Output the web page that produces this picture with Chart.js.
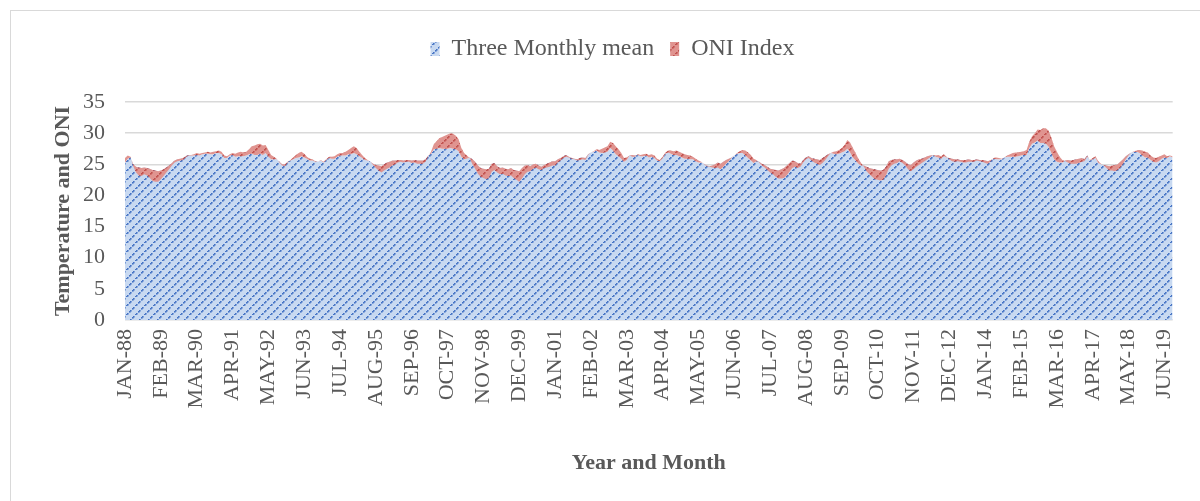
<!DOCTYPE html>
<html>
<head>
<meta charset="utf-8">
<script src="https://cdn.jsdelivr.net/npm/chart.js@4.4.1/dist/chart.umd.min.js"></script>
<style>
  html, body { margin: 0; padding: 0; background: #fff; overflow: hidden; }
  #frame { position: absolute; left: 10px; top: 10px; width: 1200px; height: 500px; border: 1px solid #d9d9d9; }
  #wrap { position: absolute; left: 0; top: 0; width: 1200px; height: 501px; }
</style>
</head>
<body>
<div id="frame"></div>
<div id="wrap"><canvas id="chart" width="1200" height="501"></canvas></div>
<script>
// monthly values, JAN-88 .. SEP-19 (one row per year)
const threeMonthlyMean = [
  25.3, 25.9, 26.1, 25.0, 24.6, 24.5, 24.4, 24.5, 24.4, 24.3, 24.1, 24.0,
  23.9, 24.0, 24.2, 24.5, 24.8, 25.2, 25.6, 25.8, 25.9, 26.0, 26.3, 26.5,
  26.4, 26.4, 26.5, 26.4, 26.6, 26.7, 26.7, 26.6, 26.6, 26.8, 26.8, 26.6,
  26.0, 26.0, 26.4, 26.5, 26.2, 26.3, 26.3, 26.3, 26.4, 26.6, 26.7, 26.5,
  26.5, 26.7, 26.5, 26.8, 26.2, 25.8, 25.8, 25.8, 25.4, 25.0, 25.0, 25.4,
  25.6, 25.8, 26.0, 26.1, 26.3, 26.1, 25.9, 25.6, 25.6, 25.4, 25.4, 25.6,
  25.3, 25.7, 26.0, 25.9, 25.9, 26.2, 26.4, 26.4, 26.4, 26.6, 26.6, 26.8,
  26.6, 26.3, 26.0, 25.7, 25.6, 25.4, 25.1, 24.9, 24.8, 24.7, 25.0, 25.3,
  25.4, 25.6, 25.6, 25.7, 25.7, 25.6, 25.7, 25.7, 25.6, 25.7, 25.6, 25.6,
  25.6, 25.8, 26.4, 26.7, 27.4, 27.5, 27.6, 27.5, 27.5, 27.5, 27.6, 27.5,
  27.4, 27.1, 26.2, 25.8, 25.9, 26.1, 25.8, 25.4, 24.8, 24.4, 24.3, 24.2,
  24.3, 25.1, 25.2, 24.7, 24.4, 24.5, 24.3, 24.2, 24.4, 24.1, 24.0, 23.9,
  24.4, 24.8, 24.9, 24.7, 25.0, 25.1, 24.8, 24.6, 24.9, 25.1, 25.3, 25.5,
  25.5, 25.8, 26.0, 26.3, 26.5, 26.2, 26.0, 25.9, 25.8, 26.0, 26.1, 26.0,
  26.6, 26.9, 27.0, 27.2, 26.9, 26.8, 26.9, 27.0, 27.6, 27.2, 26.6, 26.3,
  25.9, 25.4, 25.7, 26.4, 26.5, 26.4, 26.5, 26.3, 26.3, 26.4, 26.1, 26.2,
  26.0, 25.6, 25.5, 26.0, 26.7, 26.9, 26.7, 26.5, 26.5, 26.3, 26.1, 25.9,
  25.9, 25.8, 25.8, 25.5, 25.3, 25.3, 25.1, 24.8, 24.7, 24.8, 25.0, 25.3,
  25.1, 25.4, 25.7, 25.9, 26.1, 26.4, 26.7, 26.8, 26.8, 26.4, 26.0, 25.6,
  25.2, 25.5, 25.4, 25.1, 24.9, 24.6, 24.3, 24.2, 24.1, 24.0, 24.2, 24.4,
  24.8, 25.2, 25.6, 25.5, 25.2, 25.1, 25.7, 26.1, 26.3, 26.0, 25.9, 25.8,
  25.7, 26.0, 26.3, 26.6, 26.8, 26.7, 26.6, 26.7, 26.9, 27.1, 27.5, 26.9,
  26.1, 25.6, 25.1, 24.8, 24.8, 24.6, 24.4, 24.3, 24.2, 24.1, 24.0, 24.1,
  24.6, 25.5, 25.7, 25.8, 25.8, 25.9, 25.7, 25.4, 25.0, 24.9, 25.3, 25.6,
  25.8, 25.9, 26.1, 26.3, 26.4, 26.5, 26.2, 26.1, 25.9, 26.3, 26.1, 26.0,
  25.9, 25.8, 25.8, 25.7, 25.7, 25.7, 25.8, 25.7, 25.7, 25.8, 25.7, 25.7,
  25.6, 25.5, 25.7, 25.9, 25.8, 25.8, 25.8, 26.1, 26.2, 26.2, 26.2, 26.2,
  26.3, 26.4, 26.5, 26.5, 27.6, 28.3, 28.5, 28.8, 28.4, 28.4, 28.3, 27.8,
  26.8, 25.8, 25.4, 25.3, 25.3, 25.6, 25.7, 25.6, 25.7, 25.8, 25.9, 26.0,
  25.8, 26.4, 25.6, 25.8, 26.0, 25.2, 25.0, 24.9, 24.8, 24.7, 24.8, 24.9,
  25.0, 25.4, 25.8, 26.3, 26.6, 26.9, 27.0, 27.0, 26.8, 26.4, 26.1, 26.1,
  25.7, 25.4, 25.3, 25.5, 25.9, 26.1, 26.0, 26.3, 26.1
];

const oniIndex = [
  0.7, 0.5, 0.1, -0.3, -0.9, -1.3, -1.3, -1.1, -1.2, -1.5, -1.8, -1.8,
  -1.7, -1.4, -1.1, -0.8, -0.6, -0.4, -0.3, -0.3, -0.3, -0.3, -0.2, -0.1,
  0.1, 0.2, 0.3, 0.3, 0.2, 0.2, 0.3, 0.3, 0.4, 0.3, 0.4, 0.4,
  0.4, 0.3, 0.2, 0.3, 0.5, 0.6, 0.7, 0.6, 0.6, 0.8, 1.2, 1.5,
  1.7, 1.6, 1.5, 1.3, 1.1, 0.7, 0.4, 0.1, -0.1, -0.2, -0.3, -0.1,
  0.1, 0.3, 0.5, 0.7, 0.7, 0.6, 0.3, 0.3, 0.2, 0.1, 0.0, 0.1,
  0.1, 0.1, 0.2, 0.3, 0.4, 0.4, 0.4, 0.4, 0.6, 0.7, 1.0, 1.1,
  1.0, 0.7, 0.5, 0.3, 0.1, 0.0, -0.2, -0.5, -0.8, -1.0, -1.0, -1.0,
  -0.9, -0.8, -0.6, -0.4, -0.3, -0.3, -0.3, -0.3, -0.4, -0.4, -0.5, -0.5,
  -0.5, -0.4, -0.1, 0.3, 0.8, 1.2, 1.6, 1.9, 2.1, 2.3, 2.4, 2.4,
  2.2, 1.9, 1.4, 1.0, 0.5, -0.1, -0.8, -1.1, -1.3, -1.4, -1.5, -1.6,
  -1.5, -1.3, -1.1, -1.0, -1.0, -1.0, -1.1, -1.1, -1.2, -1.3, -1.5, -1.7,
  -1.7, -1.4, -1.1, -0.8, -0.7, -0.6, -0.6, -0.5, -0.5, -0.6, -0.7, -0.7,
  -0.7, -0.5, -0.4, -0.3, -0.3, -0.1, -0.1, -0.1, -0.2, -0.3, -0.3, -0.3,
  -0.1, 0.0, 0.1, 0.2, 0.4, 0.7, 0.8, 0.9, 1.0, 1.2, 1.3, 1.1,
  0.9, 0.6, 0.4, 0.0, -0.3, -0.2, 0.1, 0.2, 0.3, 0.3, 0.4, 0.4,
  0.4, 0.3, 0.2, 0.2, 0.2, 0.3, 0.5, 0.6, 0.7, 0.7, 0.7, 0.7,
  0.6, 0.6, 0.4, 0.4, 0.3, 0.1, -0.1, -0.1, -0.1, -0.3, -0.6, -0.8,
  -0.9, -0.8, -0.6, -0.4, -0.1, 0.0, 0.1, 0.3, 0.5, 0.8, 0.9, 0.9,
  0.7, 0.2, -0.1, -0.3, -0.4, -0.5, -0.6, -0.8, -1.1, -1.3, -1.5, -1.6,
  -1.6, -1.4, -1.2, -0.9, -0.8, -0.5, -0.4, -0.3, -0.3, -0.4, -0.6, -0.7,
  -0.8, -0.8, -0.6, -0.3, 0.0, 0.3, 0.5, 0.6, 0.7, 1.0, 1.4, 1.6,
  1.5, 1.2, 0.8, 0.4, -0.2, -0.7, -1.0, -1.3, -1.6, -1.6, -1.6, -1.6,
  -1.4, -1.2, -0.9, -0.7, -0.6, -0.4, -0.5, -0.6, -0.8, -1.0, -1.1, -1.0,
  -0.9, -0.7, -0.6, -0.5, -0.3, 0.0, 0.2, 0.4, 0.4, 0.3, 0.1, -0.2,
  -0.4, -0.4, -0.3, -0.3, -0.4, -0.4, -0.4, -0.3, -0.3, -0.2, -0.2, -0.3,
  -0.4, -0.4, -0.2, 0.1, 0.3, 0.2, 0.1, 0.0, 0.2, 0.4, 0.6, 0.7,
  0.6, 0.6, 0.6, 0.8, 1.0, 1.2, 1.5, 1.8, 2.1, 2.4, 2.5, 2.6,
  2.5, 2.1, 1.6, 0.9, 0.4, -0.1, -0.4, -0.5, -0.6, -0.7, -0.7, -0.6,
  -0.3, -0.2, 0.1, 0.2, 0.3, 0.3, 0.1, -0.1, -0.4, -0.7, -0.8, -1.0,
  -0.9, -0.9, -0.7, -0.5, -0.2, 0.0, 0.1, 0.2, 0.5, 0.8, 0.9, 0.8,
  0.7, 0.7, 0.7, 0.7, 0.5, 0.5, 0.3, 0.1, 0.2
];

const monthNames = ['JAN', 'FEB', 'MAR', 'APR', 'MAY', 'JUN', 'JUL', 'AUG', 'SEP', 'OCT', 'NOV', 'DEC'];
const firstYear = 1988;
const labelEvery = 13;
const yTicks = [0, 5, 10, 15, 20, 25, 30, 35];

const labels = threeMonthlyMean.map((v, i) =>
  monthNames[i % 12] + '-' + String((firstYear + Math.floor(i / 12)) % 100).padStart(2, '0'));

// ONI is stacked on top of the mean (Excel stacked area style)
const stackedTop = threeMonthlyMean.map((v, i) => +(v + oniIndex[i]).toFixed(2));

function hatch(bg, fg) {
  const n = 9;
  const c = document.createElement('canvas');
  c.width = n; c.height = n;
  const g = c.getContext('2d');
  g.fillStyle = bg;
  g.fillRect(0, 0, n, n);
  g.fillStyle = fg;
  for (let k = 0; k < n; k++) {
    if (k % 3 !== 2) g.fillRect(k, n - 1 - k, 1.6, 1.6);
  }
  return g.createPattern(c, 'repeat');
}

const blueFill = hatch('#c8d9f1', '#4472c4');
const redFill = hatch('#e09490', '#c0504d');

const textColor = '#595959';
const serif = "'Liberation Serif', 'DejaVu Serif', serif";

const legendSpace = {
  id: 'legendSpace',
  beforeInit(chart) {
    const fit = chart.legend.fit;
    chart.legend.fit = function () {
      fit.call(this);
      this.height = 81;
    };
  }
};

const ctx = document.getElementById('chart').getContext('2d');
new Chart(ctx, {
  type: 'line',
  data: {
    labels: labels,
    datasets: [{
      label: 'Three Monthly mean',
      data: threeMonthlyMean,
      backgroundColor: blueFill,
      borderColor: 'rgba(0,0,0,0)',
      borderWidth: 0,
      pointRadius: 0,
      fill: 'origin',
      order: 1
    }, {
      label: 'ONI Index',
      data: stackedTop,
      backgroundColor: redFill,
      borderColor: 'rgba(0,0,0,0)',
      borderWidth: 0,
      pointRadius: 0,
      fill: '-1',
      order: 0
    }]
  },
  options: {
    responsive: false,
    animation: false,
    layout: { padding: { left: 50, top: 21, right: 25, bottom: 20 } },
    plugins: {
      tooltip: { enabled: false },
      legend: {
        position: 'top',
        labels: {
          boxWidth: 9,
          boxHeight: 14,
          padding: 16,
          color: textColor,
          font: { family: serif, size: 24 },
          sort: (a, b) => a.datasetIndex - b.datasetIndex
        }
      }
    },
    scales: {
      x: {
        grid: { display: false, drawTicks: false },
        border: { display: false },
        ticks: {
          autoSkip: false,
          minRotation: 90,
          maxRotation: 90,
          padding: 9,
          color: textColor,
          font: { family: serif, size: 22 },
          callback: function (val, index) {
            return index % labelEvery === 0 ? this.getLabelForValue(val) : null;
          }
        },
        title: {
          display: true,
          text: 'Year and Month',
          color: textColor,
          padding: { top: 0, bottom: 4 },
          font: { family: serif, size: 22, weight: 'bold' }
        },
        afterFit: (s) => { s.height = 161; }
      },
      y: {
        min: yTicks[0],
        max: yTicks[yTicks.length - 1],
        grid: { color: '#d9d9d9', lineWidth: 1.5, drawTicks: false },
        border: { display: false },
        ticks: {
          stepSize: 5,
          padding: 20,
          color: textColor,
          font: { family: serif, size: 22 }
        },
        title: {
          display: true,
          text: 'Temperature and ONI',
          color: textColor,
          padding: { top: 0, bottom: 0 },
          font: { family: serif, size: 22, weight: 'bold' }
        },
        afterFit: (s) => { s.width = 75; }
      }
    }
  },
  plugins: [legendSpace]
});
</script>
</body>
</html>
